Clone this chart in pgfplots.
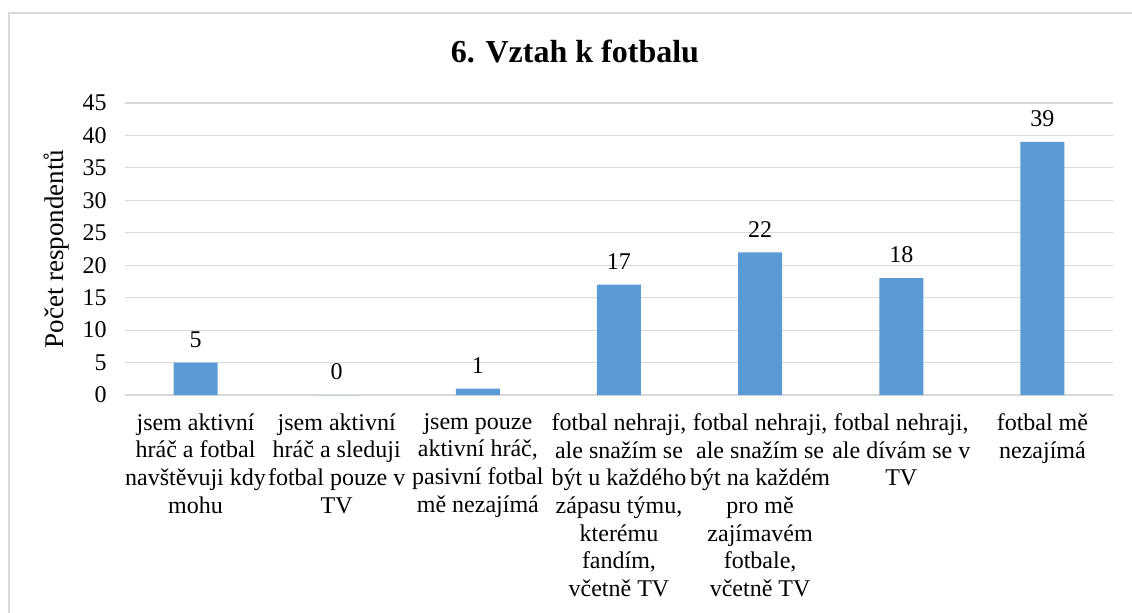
\documentclass[border=0pt]{standalone}
\usepackage{fontspec}
\setmainfont{Liberation Serif}
\usepackage{pgfplots}
\pgfplotsset{compat=1.18}
\definecolor{barblue}{HTML}{5B9BD5}
\definecolor{gridgray}{HTML}{D9D9D9}
\begin{document}
\begin{tikzpicture}
\useasboundingbox (0,0) rectangle (566pt,306pt);
\draw[gridgray, line width=0.6pt] (4.5pt,-2pt) -- (4.5pt,299.5pt) -- (570pt,299.5pt);
\node[font=\fontsize{16}{19}\selectfont\bfseries, anchor=base] at (287.5pt,274.6pt) {6. Vztah k fotbalu};
\begin{axis}[
  at={(62.5pt,108.5pt)}, anchor=south west,
  scale only axis, width=494pt, height=146pt,
  ybar, bar width=22pt,
  xmin=-0.5, xmax=6.5, ymin=0, ymax=45,
  ytick={0,5,...,45},
  xtick={0,...,6},
  xticklabels={
    {jsem aktivní\\hráč a fotbal\\navštěvuji kdy\\mohu},
    {jsem aktivní\\hráč a sleduji\\fotbal pouze v\\TV},
    {jsem pouze\\aktivní hráč,\\pasivní fotbal\\mě nezajímá},
    {fotbal nehraji,\\ale snažím se\\být u každého\\zápasu týmu,\\kterému\\fandím,\\včetně TV},
    {fotbal nehraji,\\ale snažím se\\být na každém\\pro mě\\zajímavém\\fotbale,\\včetně TV},
    {fotbal nehraji,\\ale dívám se v\\TV},
    {fotbal mě\\nezajímá}},
  xticklabel style={align=center, font=\fontsize{12}{13.85}\selectfont, anchor=north, inner sep=0pt, yshift=-9pt},
  yticklabel style={font=\fontsize{12}{13.85}\selectfont, anchor=east, inner sep=0pt, xshift=-9pt},
  /pgf/number format/assume math mode=true,
  major tick length=0pt,
  ymajorgrids, major grid style={draw=gridgray, line width=0.6pt},
  axis x line*=bottom, axis y line*=left,
  separate axis lines,
  x axis line style={draw=gridgray, line width=0.8pt, -},
  y axis line style={draw=none},
  ylabel={Počet respondentů},
  ylabel style={font=\fontsize{13.5}{15}\selectfont, at={([xshift=-34pt]axis description cs:0,0.5)}, anchor=center},
  nodes near coords,
  every node near coord/.append style={font=\fontsize{12}{13.85}\selectfont, yshift=4pt},
  clip=false,
]
\addplot[fill=barblue, draw=none] coordinates {(0,5) (1,0) (2,1) (3,17) (4,22) (5,18) (6,39)};
\end{axis}
\end{tikzpicture}
\end{document}
